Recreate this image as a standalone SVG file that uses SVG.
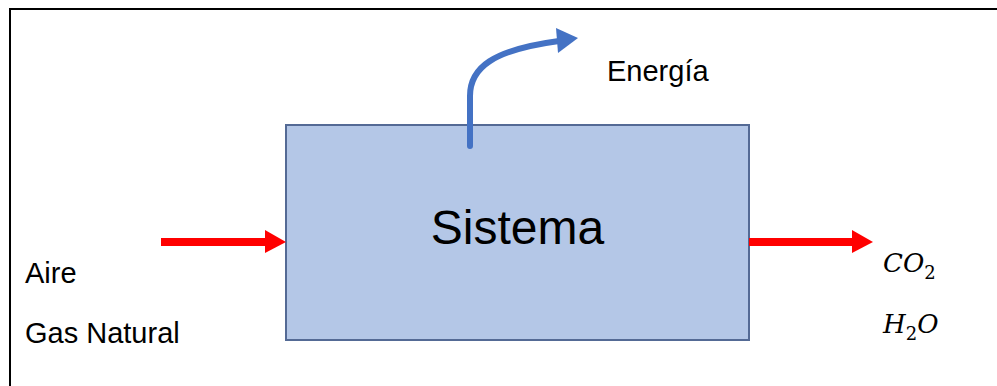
<svg xmlns="http://www.w3.org/2000/svg" width="997" height="386" viewBox="0 0 997 386">
  <style>
    .label { font-family: "Liberation Sans", Arial, sans-serif; fill: #000; }
    .chem { font-family: "DejaVu Serif", "Liberation Serif", serif; font-style: italic; fill: #000; }
    .sub { font-style: normal; font-size: 18px; }
    .flow-red { fill: #FF0000; }
    .flow-blue { fill: none; stroke: #4472C4; stroke-width: 6; stroke-linecap: round; }
  </style>

  <!-- page frame (top and left edges) -->
  <g id="frame" fill="none" stroke="#000" stroke-width="2">
    <path d="M10,386 L10,9 L997,9"/>
  </g>

  <!-- process block -->
  <g id="sistema">
    <rect x="286" y="125" width="463" height="215" fill="#B4C7E7" stroke="#546A95" stroke-width="2"/>
    <text class="label" x="517.5" y="244" font-size="48" text-anchor="middle">Sistema</text>
  </g>

  <!-- inputs -->
  <g id="entradas">
    <text class="label" x="25" y="283" font-size="29">Aire</text>
    <text class="label" x="25" y="343" font-size="29">Gas Natural</text>
  </g>

  <!-- outputs -->
  <g id="salidas">
    <text class="chem" x="883" y="272" font-size="26">CO<tspan class="sub" dy="7">2</tspan></text>
    <text class="chem" x="883" y="333" font-size="26">H<tspan class="sub" dy="7">2</tspan><tspan dy="-7">O</tspan></text>
  </g>

  <!-- energy label -->
  <g id="energia">
    <text class="label" x="607" y="81" font-size="29">Energía</text>
  </g>

  <!-- connectors -->
  <g id="connectors">
    <!-- input stream -->
    <rect class="flow-red" x="161" y="238" width="106" height="8"/>
    <polygon class="flow-red" points="265,230 286,242 265,253"/>
    <!-- output stream -->
    <rect class="flow-red" x="749" y="238" width="105" height="8"/>
    <polygon class="flow-red" points="852,230 873,242 852,253"/>
    <!-- energy released -->
    <path class="flow-blue" d="M470,146 L470,96 C470,68 492,50 559,41"/>
    <polygon fill="#4472C4" points="556,28 578,38 558,53"/>
  </g>
</svg>
